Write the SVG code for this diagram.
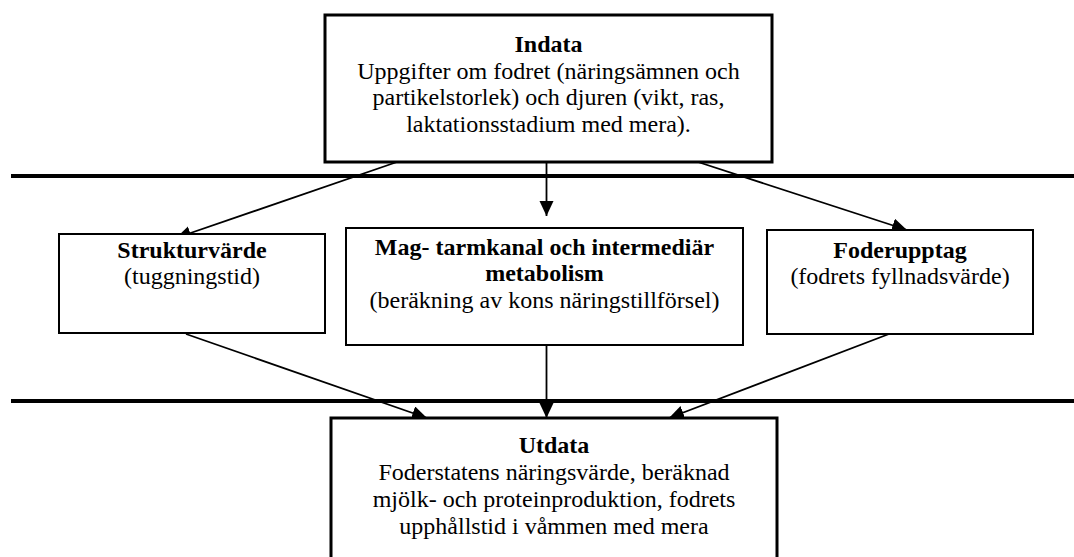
<svg xmlns="http://www.w3.org/2000/svg" width="1074" height="557" viewBox="0 0 1074 557">
<style>
.box{fill:#fff;stroke:#000}
.thick{stroke-width:3}
.thin{stroke-width:2}
.sep{stroke:#000;stroke-width:4}
.conn{stroke:#000;stroke-width:1.8;fill:none;marker-end:url(#ah)}
text{font-family:'Liberation Serif','Times New Roman','DejaVu Serif',serif;font-size:24px;fill:#000;text-anchor:middle}
.t{font-weight:bold}
</style>
<defs>
<marker id="ah" markerUnits="userSpaceOnUse" markerWidth="16" markerHeight="15" refX="15" refY="7" orient="auto">
<path d="M0,0 L15,7 L0,14 z" fill="#000"/>
</marker>
</defs>
<rect width="1074" height="557" fill="#fff"/>
<g id="separators">
<line class="sep" x1="11" y1="176" x2="1074" y2="176"/>
<line class="sep" x1="11" y1="401" x2="1074" y2="401"/>
</g>
<g id="connectors">
<line class="conn" x1="397" y1="162" x2="176" y2="238"/>
<line class="conn" x1="546.5" y1="162" x2="546.5" y2="216"/>
<line class="conn" x1="698" y1="162" x2="907" y2="230"/>
<line class="conn" x1="186" y1="334" x2="427" y2="418"/>
<line class="conn" x1="546.5" y1="345" x2="546.5" y2="418"/>
<line class="conn" x1="889" y1="334" x2="669" y2="418"/>
</g>
<g id="indata" font-family="Liberation Serif, Times New Roman, DejaVu Serif, serif">
<rect class="box thick" x="325" y="15" width="447" height="147"/>
<text class="t" x="548.5" y="52">Indata</text>
<text x="548.5" y="78.5">Uppgifter om fodret (näringsämnen och</text>
<text x="548.5" y="105">partikelstorlek) och djuren (vikt, ras,</text>
<text x="548.5" y="131.5">laktationsstadium med mera).</text>
</g>
<g id="strukturvarde" font-family="Liberation Serif, Times New Roman, DejaVu Serif, serif">
<rect class="box thin" x="59" y="234" width="266" height="99"/>
<text class="t" x="192" y="258">Strukturvärde</text>
<text x="192" y="284">(tuggningstid)</text>
</g>
<g id="magtarmkanal" font-family="Liberation Serif, Times New Roman, DejaVu Serif, serif">
<rect class="box thin" x="346" y="228" width="397" height="117"/>
<text class="t" x="544.5" y="255">Mag- tarmkanal och intermediär</text>
<text class="t" x="544.5" y="281">metabolism</text>
<text x="544.5" y="308">(beräkning av kons näringstillförsel)</text>
</g>
<g id="foderupptag" font-family="Liberation Serif, Times New Roman, DejaVu Serif, serif">
<rect class="box thin" x="767" y="230" width="266" height="104"/>
<text class="t" x="900" y="258">Foderupptag</text>
<text x="900" y="284">(fodrets fyllnadsvärde)</text>
</g>
<g id="utdata" font-family="Liberation Serif, Times New Roman, DejaVu Serif, serif">
<rect class="box thick" x="331" y="418" width="446" height="160"/>
<text class="t" x="554" y="453">Utdata</text>
<text x="554" y="480">Foderstatens näringsvärde, beräknad</text>
<text x="554" y="507">mjölk- och proteinproduktion, fodrets</text>
<text x="554" y="534">upphållstid i våmmen med mera</text>
</g>
</svg>
